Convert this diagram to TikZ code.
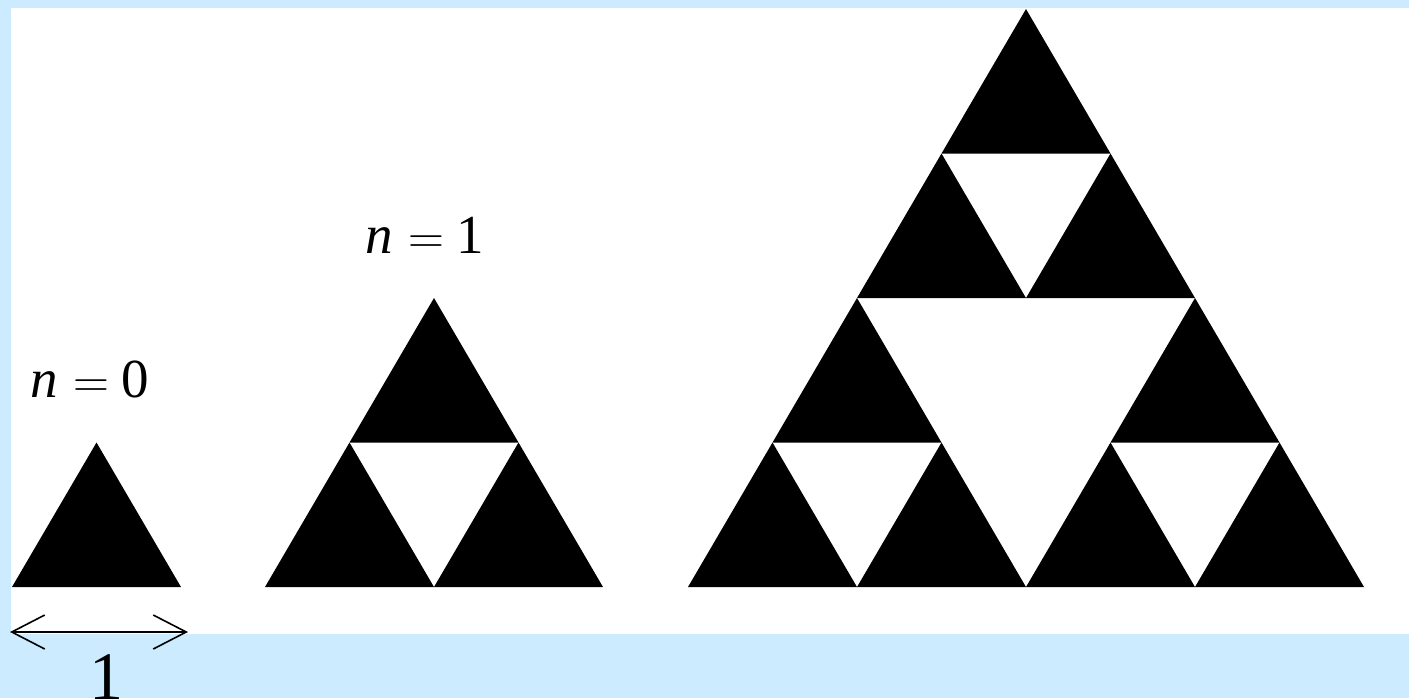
\documentclass[tikz,border=0pt]{standalone}
\usepackage{fontspec}
\setmainfont{Liberation Serif}
\usetikzlibrary{arrows.meta}
\definecolor{framebg}{RGB}{204,235,255}

\begin{document}
\begin{tikzpicture}[
    x=0.5pt, y=-0.5pt,
    blacktri/.pic={\fill[black] (0,0) -- (169,0) -- (84.5,-144.5) -- cycle;},
    steplabel/.style={inner sep=0pt, anchor=base, font=\fontsize{27.5}{30}\selectfont},
    unitarrow/.style={{Straight Barb[length=16.5pt,width=17pt]}-{Straight Barb[length=16.5pt,width=17pt]}, line width=0.8pt}
]
% --- FOND ---
\useasboundingbox (0,0) rectangle (1409,698);
\fill[framebg] (0,0) rectangle (1409,698);
\fill[white] (11,8) rectangle (1409,634);

% --- n = 0 ---
\pic at (12,587) {blacktri};

% --- n = 1 ---
\foreach \u/\v in {0/0,1/0,0.5/1}
    \pic at ({265+\u*169},{587-\v*144.5}) {blacktri};

% --- n = 2 ---
\foreach \u/\v in {0/0,1/0,2/0,3/0,0.5/1,2.5/1,1/2,2/2,1.5/3}
    \pic at ({688+\u*169},{587-\v*144.5}) {blacktri};

% --- LABELS ---
\node[steplabel] (lbl-n0) at (90,397) {\textit{n}\hspace{0.28em}$=$\hspace{0.22em}0};
\node[steplabel] (lbl-n1) at (425,253) {\textit{n}\hspace{0.28em}$=$\hspace{0.22em}1};

% --- UNITE ---
\coordinate (unit-l) at (10,632);
\coordinate (unit-r) at (188,632);
\draw[unitarrow] (unit-l) -- (unit-r);
\node[inner sep=0pt, anchor=base, font=\fontsize{34}{36}\selectfont] (lbl-unit) at (107,699) {1};

\end{tikzpicture}
\end{document}
